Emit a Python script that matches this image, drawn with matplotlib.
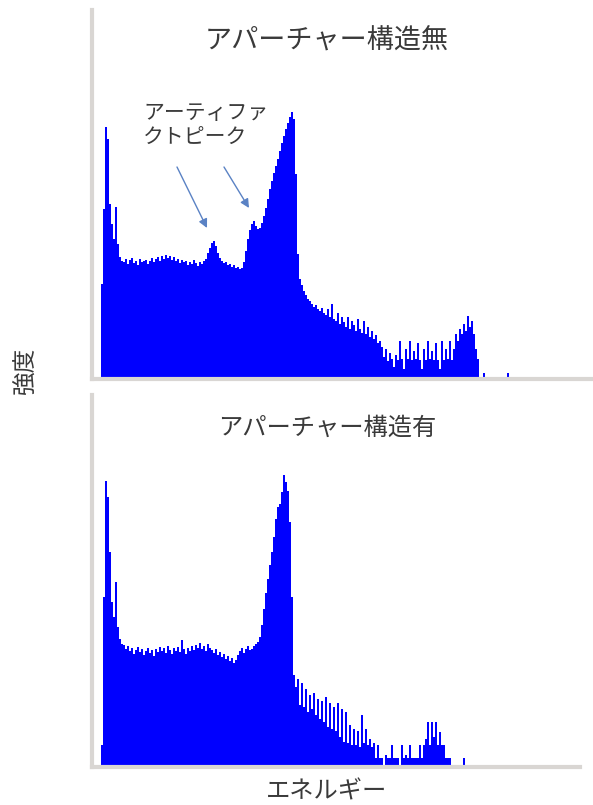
import numpy as np
import matplotlib
matplotlib.use('Agg')
import matplotlib.pyplot as plt

plt.rcParams['font.family'] = ['Noto Sans CJK JP', 'DejaVu Sans']

# Intensidad por canal (unidades arbitrarias), panel superior: sin apertura
top_counts = [
    95, 170, 252, 240, 175, 155, 140, 172, 135, 122, 118,
    117, 120, 115, 119, 121, 116, 118, 114, 120, 117, 118,
    119, 115, 118, 121, 117, 120, 122, 118, 123, 120,
    124, 121, 123, 119, 122, 118, 120, 116, 119, 117,
    118, 114, 117, 115, 119, 116, 113, 117, 115, 118,
    120, 126, 131, 136, 138, 133, 126, 121, 118,
    116, 117, 114, 115, 112, 114, 111, 112, 110, 111,
    117, 128, 140, 149, 155, 158, 153, 150, 151, 156,
    163, 171, 180, 190, 198, 206, 213, 220, 228, 236,
    243, 250, 256, 262, 267, 260, 205, 125, 100, 94,
    88, 84, 80, 78, 75, 72, 74, 70, 68, 71,
    66, 64, 70, 62, 75, 60, 58, 66, 55, 62,
    57, 52, 62, 50, 58, 54, 48, 60, 50, 46,
    58, 45, 52, 42, 48, 40, 44, 36, 38, 32,
    22, 30, 18, 26, 20, 12, 24, 19, 38, 20,
    10, 30, 20, 38, 19, 28, 20, 36, 19,
    10, 30, 19, 38, 20, 28, 19, 36, 19, 10,
    38, 19, 30, 20, 38, 19, 30, 45, 38, 50,
    45, 55, 48, 63, 52, 58, 45, 30, 20,
    0, 0, 6, 0, 0, 0, 0, 0, 0, 0, 0, 0, 0, 0, 6,
]

# Panel inferior: con apertura
bottom_counts = [
    22, 170, 286, 270, 215, 165, 150, 185, 140, 128, 123,
    122, 118, 121, 116, 119, 113, 117, 120, 115, 118,
    112, 116, 119, 114, 117, 111, 118, 115, 120, 116,
    119, 114, 121, 117, 113, 119, 116, 120, 115, 127,
    118, 113, 119, 116, 121, 117, 122, 119, 124, 118,
    121, 116, 123, 119, 117, 114, 118, 112, 115, 110,
    113, 108, 111, 106, 109, 104, 107,
    112, 116, 119, 114, 118, 121, 117,
    118, 121, 123, 125, 130,
    142, 158, 174, 188, 202, 215, 230, 248, 260, 263,
    275, 292, 285, 276, 245, 170, 92,
    80, 88, 62, 84, 60, 78, 55, 72, 58, 74,
    52, 68, 48, 66, 45, 70, 40, 64, 38, 60,
    36, 64, 30, 58, 25, 55, 24, 42, 22, 38,
    22, 36, 20, 52, 24, 38, 22, 28, 20, 24,
    9, 22, 9, 9, 0, 12, 9, 9, 22, 9,
    9, 9, 0, 22, 9, 12, 9, 22, 9, 9,
    9, 9, 22, 9, 22, 28, 45, 22, 45, 30,
    45, 22, 35, 22, 22, 9, 9, 9,
    0, 0, 0, 0, 0, 0, 9,
]

top_title = 'アパーチャー構造無'
bottom_title = 'アパーチャー構造有'
artifact_label = 'アーティファ\nクトピーク'
# canales señalados por las flechas (picos artefacto) y origen de cada flecha
artifact_peaks = [(53, 151), (74, 171)]
arrow_tails = [(38, 212), (61.5, 212)]

W, H = 593, 805
fig = plt.figure(figsize=(W / 100, H / 100), dpi=100)

axis_grey = '#d9d6d3'
text_grey = '#3a3a3a'
bar_blue = '#0000ff'


def style(ax):
    for s in ['top', 'right']:
        ax.spines[s].set_visible(False)
    for s in ['left', 'bottom']:
        ax.spines[s].set_color(axis_grey)
        ax.spines[s].set_linewidth(3)
    ax.set_xticks([])
    ax.set_yticks([])


def spectrum(ax, counts):
    edges = np.arange(len(counts) + 1)
    ax.stairs(counts, edges, fill=True, color=bar_blue, linewidth=0)


# Panel superior
ax1 = fig.add_axes([92 / W, 1 - 379 / H, (593 - 92) / W, 369 / H])
spectrum(ax1, top_counts)
ax1.set_xlim(-4.5, 246)
ax1.set_ylim(0, 369)
style(ax1)

ax1.text(21, 277, artifact_label, fontsize=15, color=text_grey,
         ha='left', va='top', linespacing=1.15)
for tail, head in zip(arrow_tails, artifact_peaks):
    ax1.annotate('', xy=head, xytext=tail,
                 arrowprops=dict(arrowstyle='-|>', color='#5a82c4', lw=1,
                                 mutation_scale=13, shrinkA=0, shrinkB=0))

# Panel inferior
ax2 = fig.add_axes([92 / W, 1 - 767 / H, (580 - 92) / W, 372 / H])
spectrum(ax2, bottom_counts)
ax2.set_xlim(-4.5, 239.5)
ax2.set_ylim(0, 372)
style(ax2)

# Títulos y etiquetas
fig.text(327 / W, 1 - 41 / H, top_title, fontsize=19.5, color=text_grey,
         ha='center', va='center')
fig.text(327 / W, 1 - 428 / H, bottom_title, fontsize=17.5, color=text_grey,
         ha='center', va='center')
fig.text(26 / W, 1 - 370 / H, '強度', fontsize=17, color=text_grey,
         ha='center', va='center', rotation=90)
fig.text(327 / W, 1 - 791 / H, 'エネルギー', fontsize=17.5, color=text_grey,
         ha='center', va='center')

fig.savefig('out.png', dpi=100)
